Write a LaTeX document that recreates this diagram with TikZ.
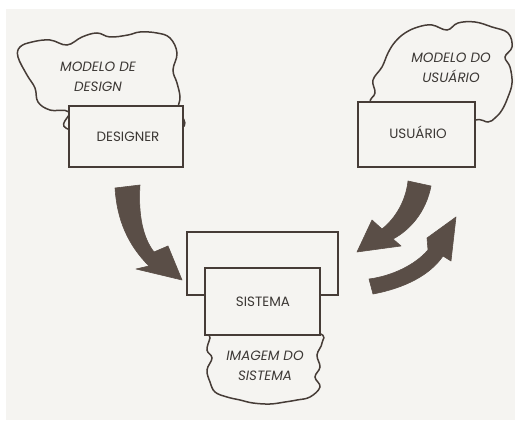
\documentclass[tikz,border=0pt]{standalone}
\usepackage{fontspec}
\setmainfont{Poppins}
\definecolor{paper}{HTML}{F5F4F1}
\definecolor{ink}{HTML}{463C37}
\definecolor{arrowc}{HTML}{5A4E47}
\definecolor{txt}{HTML}{3C3835}
\tikzset{
  box/.style={draw=ink, line width=1.6pt, fill=paper, inner sep=0pt},
  blob/.style={draw=ink, line width=1.5pt, fill=paper},
  lbl/.style={text=txt, font=\fontsize{13.5}{14}\selectfont, inner sep=0pt},
  cloudlbl/.style={text=txt, font=\fontsize{13.5}{19.5}\selectfont\itshape, align=center, inner sep=0pt},
  bigarrow/.style={fill=arrowc, draw=arrowc, line width=0.6pt, line join=round}
}
\begin{document}
\begin{tikzpicture}[x=1pt,y=-1pt]
\useasboundingbox (0,0) rectangle (515,425);
\fill[white] (0,0) rectangle (515,425);
\fill[paper] (6,9) rectangle (515,420);

% cloud: model of the designer
\draw[blob] plot[smooth cycle, tension=0.65] coordinates {
  (69,112) (50,110) (38,102) (35,88) (27,75) (18,57) (20,47) (32,42)
  (50,40) (67,45) (82,37) (97,33) (110,37) (128,35) (140,32) (157,33)
  (170,38) (177,53) (173,70) (177,83) (180,97) (178,108) (176,130) (72,130)};
\node[box, minimum width=114pt, minimum height=61pt] (designer) at (126,136.5) {};
\node[lbl] (designertxt) at (128,137) {DESIGNER};
\node[cloudlbl] (mdesign) at (98,77) {MODELO DE\\DESIGN};

% cloud: model of the user
\draw[blob] plot[smooth cycle, tension=0.65] coordinates {
  (370,104) (375,93) (373,80) (382,67) (388,53) (395,42) (405,33) (418,27)
  (432,25) (447,30) (458,23) (475,22) (492,27) (508,33) (512,47) (505,57)
  (510,67) (512,83) (508,97) (502,110) (495,118) (488,122) (475,120)
  (440,130) (380,130)};
\node[box, minimum width=117pt, minimum height=65pt] (usuario) at (416.5,134.5) {};
\node[lbl] (usuariotxt) at (418,132) {USUÁRIO};
\node[cloudlbl] (musuario) at (451,68) {MODELO DO\\USUÁRIO};

% system: back panel, system box and its image
\node[box, minimum width=151pt, minimum height=63pt] (back) at (262.5,263.5) {};
\draw[blob] plot[smooth cycle, tension=0.65] coordinates {
  (212,330) (210,338) (207,350) (212,358) (207,370) (210,382) (215,392)
  (227,397) (240,400) (253,403) (270,404) (285,402) (297,400) (310,397)
  (320,387) (315,377) (320,367) (317,355) (322,343) (318,333) (265,325)};
\node[box, minimum width=115pt, minimum height=67pt] (sistema) at (262.5,301.5) {};
\node[lbl] (sistematxt) at (263,302) {SISTEMA};
\node[cloudlbl] (imagem) at (265,366) {IMAGEM DO\\SISTEMA};

% heavy curved arrows
\filldraw[bigarrow] (115,188) -- (140,185) .. controls (138,215) and (143,238) .. (154,252)
  -- (168,246) -- (182,280) -- (136,269) -- (149,266)
  .. controls (128,245) and (117,220) .. (115,188) -- cycle;
\filldraw[bigarrow] (408,181) -- (431,186) .. controls (426,212) and (410,230) .. (393,239)
  -- (401,246) -- (357,252) -- (372,220) -- (382,229)
  .. controls (396,218) and (406,200) .. (408,181) -- cycle;
\filldraw[bigarrow] (369,279) .. controls (392,276) and (415,265) .. (428,250)
  -- (427,238) -- (456,217) -- (451,261) -- (443,256)
  .. controls (430,275) and (405,288) .. (373,294) -- cycle;
\end{tikzpicture}
\end{document}
